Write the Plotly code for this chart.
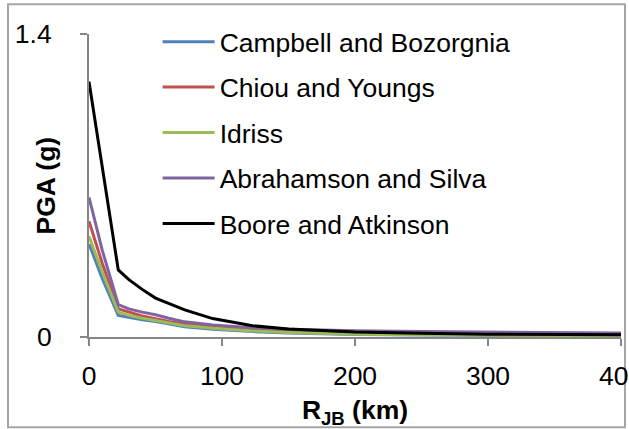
import plotly.graph_objects as go

distance_km = [0, 10, 22, 30, 40, 50, 60, 72, 93, 123, 150, 173, 200, 250, 300, 400]
campbell_bozorgnia = [0.43, 0.27, 0.10, 0.09, 0.08, 0.072, 0.06, 0.047, 0.036, 0.025, 0.019, 0.015, 0.012, 0.009, 0.007, 0.005]
chiou_youngs = [0.535, 0.34, 0.13, 0.115, 0.097, 0.085, 0.072, 0.06, 0.046, 0.032, 0.025, 0.020, 0.016, 0.012, 0.010, 0.007]
idriss = [0.465, 0.30, 0.115, 0.10, 0.087, 0.077, 0.065, 0.052, 0.040, 0.028, 0.021, 0.017, 0.013, 0.010, 0.008, 0.006]
abrahamson_silva = [0.645, 0.40, 0.15, 0.13, 0.115, 0.103, 0.087, 0.07, 0.056, 0.043, 0.036, 0.032, 0.029, 0.025, 0.022, 0.018]
boore_atkinson = [1.18, 0.78, 0.31, 0.265, 0.22, 0.18, 0.155, 0.125, 0.085, 0.052, 0.037, 0.030, 0.023, 0.017, 0.013, 0.010]

series_names = ["Campbell and Bozorgnia", "Chiou and Youngs", "Idriss", "Abrahamson and Silva", "Boore and Atkinson"]
series_values = [campbell_bozorgnia, chiou_youngs, idriss, abrahamson_silva, boore_atkinson]
series_colors = ["#4F81BD", "#C0504D", "#9BBB59", "#8064A2", "#000000"]

x_tick_vals = [0, 100, 200, 300, 400]
y_tick_vals = [0, 1.4]
y_tick_text = ["0", "1.4"]

FONT = "Arial, Liberation Sans, sans-serif"
FS = 26.5

fig = go.Figure()
for i, (name, vals, col) in enumerate(zip(series_names, series_values, series_colors)):
    fig.add_trace(go.Scatter(x=distance_km, y=vals, mode="lines", name=name,
                             line=dict(color=col, width=3), legendgroup=f"g{i}"))

fig.update_layout(
    width=629, height=429,
    margin=dict(l=89, r=8, t=34, b=92, autoexpand=False),
    paper_bgcolor="white", plot_bgcolor="white",
    font=dict(family=FONT, size=FS, color="black"),
    showlegend=True,
    legend=dict(x=0.129, y=1.053, xanchor="left", yanchor="top",
                bgcolor="rgba(0,0,0,0)", font=dict(size=FS, family=FONT),
                tracegroupgap=8, itemwidth=52, maxheight=420),
    xaxis=dict(range=[0, 400], tickvals=x_tick_vals, showgrid=False, zeroline=False,
               showline=True, linecolor="#868686", linewidth=2, automargin=False,
               ticks="outside", ticklen=7, tickwidth=2, tickcolor="#868686",
               ticklabelstandoff=7, ticklabeloverflow="allow",
               title=dict(text="<b>R<sub>JB</sub> (km)</b>", font=dict(size=FS), standoff=14)),
    yaxis=dict(range=[0, 1.4], tickvals=y_tick_vals, ticktext=y_tick_text, showgrid=False,
               zeroline=False, showline=True, linecolor="#868686", linewidth=2, automargin=False,
               ticks="outside", ticklen=7, tickwidth=2, tickcolor="#868686",
               ticklabelstandoff=23, ticklabeloverflow="allow"),
)

fig.add_annotation(text="<b>PGA (g)</b>", xref="paper", yref="paper",
                   x=(45 - 89) / 532, y=0.5, textangle=-90, showarrow=False,
                   xanchor="center", yanchor="middle", font=dict(size=FS, family=FONT))

fig.add_shape(type="rect", xref="paper", yref="paper",
              x0=(8 - 89) / 532, x1=(625 - 89) / 532,
              y0=(337 - 427) / 302.4, y1=(337 - 5) / 302.4,
              line=dict(color="#A6A6A6", width=2), fillcolor="rgba(0,0,0,0)", layer="below")

fig.write_html("out.html", config={"displayModeBar": False},
               post_script="document.body.style.margin='0';document.body.style.overflow='hidden';")
